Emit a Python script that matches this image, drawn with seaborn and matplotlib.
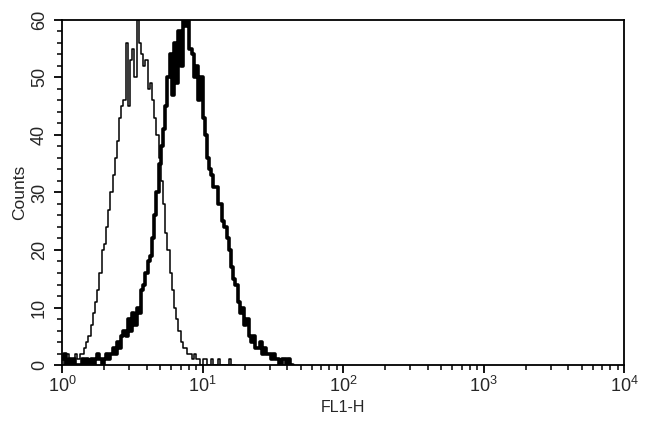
import numpy as np
import pandas as pd
import matplotlib
matplotlib.use("Agg")
import matplotlib.pyplot as plt
import seaborn as sns
from matplotlib.ticker import LogLocator, MultipleLocator, NullFormatter

# 256 channels over 4 decades -> 64 channels per decade
CH_PER_DECADE = 64

# control (thin line), counts per channel starting at channel 0
control_counts = [1, 0, 2, 1, 1, 0, 2, 1, 2, 2,
                  3, 4, 5, 7, 9, 11, 13, 16, 20, 21,
                  24, 27, 30, 33, 36, 39, 43, 45, 46, 56,
                  45, 53, 55, 50, 60, 56, 54, 52, 53, 48,
                  49, 46, 43, 40, 36, 32, 28, 23, 20, 16,
                  13, 10, 8, 6, 4, 3, 3, 2, 2, 1,
                  2, 1, 1, 0, 1, 1, 0, 0, 1, 0,
                  0, 1, 0, 0, 0, 0, 1, 0, 0, 0]

# stained sample (thick line)
stained_counts = [1, 2, 0, 1, 0, 1, 0, 0, 0, 1,
                  0, 1, 0, 1, 0, 1, 2, 1, 0, 1,
                  2, 1, 2, 3, 2, 4, 3, 5, 6, 5,
                  8, 6, 9, 7, 10, 9, 13, 14, 16, 18,
                  19, 22, 26, 30, 35, 38, 41, 45, 50, 54,
                  47, 56, 49, 58, 52, 60, 59, 60, 55, 54,
                  50, 52, 46, 50, 43, 40, 36, 34, 33, 31,
                  31, 28, 28, 25, 24, 22, 20, 17, 15, 14,
                  11, 9, 10, 7, 8, 5, 4, 5, 3, 3,
                  4, 2, 3, 2, 2, 1, 2, 1, 1, 0,
                  1, 1, 0, 1, 0, 0]


def to_frame(counts):
    ch = np.arange(len(counts))
    return pd.DataFrame({"FL1-H": 10 ** (ch / CH_PER_DECADE), "Counts": counts})


control = to_frame(control_counts)
stained = to_frame(stained_counts)

sns.set_style("white")
plt.rcParams["font.family"] = ["Liberation Sans", "DejaVu Sans"]

fig = plt.figure(figsize=(6.5, 4.23), dpi=100)
ax = fig.add_axes([0.0954, 0.137, 0.8646, 0.816])

sns.lineplot(data=control, x="FL1-H", y="Counts", ax=ax, color="black",
             linewidth=1.1, drawstyle="steps-post", estimator=None)
sns.lineplot(data=stained, x="FL1-H", y="Counts", ax=ax, color="black",
             linewidth=2.6, drawstyle="steps-post", estimator=None)

ax.set_xscale("log")
ax.set_xlim(1, 1e4)
ax.set_ylim(0, 60)
ax.xaxis.set_major_locator(LogLocator(base=10, numticks=5))
ax.xaxis.set_minor_locator(LogLocator(base=10, subs=np.arange(2, 10), numticks=20))
ax.xaxis.set_minor_formatter(NullFormatter())
ax.yaxis.set_major_locator(MultipleLocator(10))
ax.yaxis.set_minor_locator(MultipleLocator(2))

for s in ax.spines.values():
    s.set_color("black")
    s.set_linewidth(1.3)

ax.tick_params(axis="both", which="both", direction="out", color="black",
               bottom=True, left=True, top=False, right=False)
ax.tick_params(axis="both", which="major", length=6, width=1.3, labelsize=13, pad=2)
ax.tick_params(axis="y", which="major", pad=4)
ax.tick_params(axis="both", which="minor", length=3.5, width=1.1)
ax.tick_params(axis="y", labelrotation=90)
for lbl in ax.get_yticklabels():
    lbl.set_va("center")

ax.set_xlabel("FL1-H", fontsize=11.5, labelpad=3)
ax.set_ylabel("Counts", fontsize=12.5, labelpad=3)

fig.savefig("out.png", dpi=100)
